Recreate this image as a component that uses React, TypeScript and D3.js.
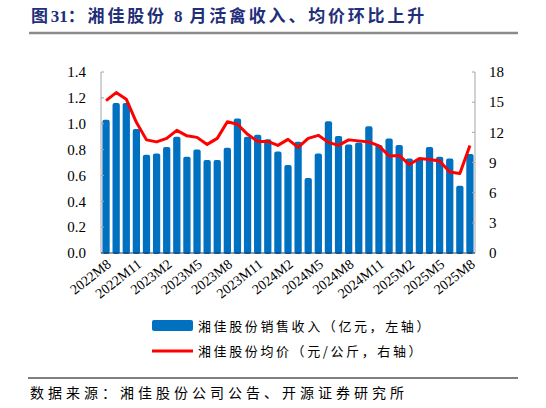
import { useEffect, useRef } from 'react';
import * as d3 from 'd3';

// months 2022M8 .. 2025M8
const months: string[] = [];
for (let i = 0; i < 37; i++) {
  const m = 8 + i;
  const y = 2022 + Math.floor((m - 1) / 12);
  months.push(`${y}M${((m - 1) % 12) + 1}`);
}

const revenue = [
  1.03, 1.16, 1.16, 0.96, 0.76, 0.77, 0.82, 0.90, 0.745, 0.80, 0.72, 0.72, 0.815,
  1.04, 0.90, 0.915, 0.88, 0.785, 0.68, 0.86, 0.58, 0.77, 1.02, 0.905, 0.84,
  0.855, 0.98, 0.835, 0.885, 0.835, 0.73, 0.73, 0.82, 0.745, 0.73, 0.52, 0.765,
];

const price = [
  15.15, 15.95, 15.3, 13.0, 11.25, 11.05, 11.4, 12.2, 11.65, 11.5, 10.8, 11.4, 13.05,
  12.8, 11.8, 11.1, 11.1, 10.7, 11.3, 10.5, 11.4, 11.7, 11.0, 10.7, 11.25,
  11.15, 11.05, 10.65, 9.65, 9.7, 8.8, 9.4, 9.3, 9.15, 8.05, 7.9, 10.7,
];

const leftTicks = [0, 0.2, 0.4, 0.6, 0.8, 1.0, 1.2, 1.4];
const rightTicks = [0, 3, 6, 9, 12, 15, 18];
const tickMonths = months.filter((_, i) => i % 3 === 0);

// title pieces: [text, letter-spacing]
const titleParts: [string, number][] = [
  ['图', 2.8], ['31', 0], ['：湘佳股份 ', 2.8], ['8', 0], [' 月活禽收入、均价环比上升', 2.8],
];
const legendBar = '湘佳股份销售收入（亿元，左轴）';
const legendLine = '湘佳股份均价（元/公斤，右轴）';
const source = '数据来源：湘佳股份公司公告、开源证券研究所';

const W = 546;
const H = 408;
const SERIF = '"Times New Roman", "Liberation Serif", serif';
const CJK = '"Noto Sans CJK SC", sans-serif';

export default function App() {
  const svgRef = useRef<SVGSVGElement>(null);

  useEffect(() => {
    document.body.style.margin = '0';
    if (!svgRef.current) return;
    const svg = d3.select(svgRef.current);
    svg.selectAll('*').remove();

    const x0 = 101;
    const x1 = 475;
    const yTop = 72;
    const yBot = 253;

    const x = d3.scaleBand<string>().domain(months).range([x0, x1]).paddingInner(0.28).paddingOuter(0.14);
    const yL = d3.scaleLinear().domain([0, 1.4]).range([yBot, yTop]);
    const yR = d3.scaleLinear().domain([0, 18]).range([yBot, yTop]);

    // title
    const t = svg.append('text')
      .attr('x', 31).attr('y', 22)
      .attr('font-family', `${SERIF}, ${CJK}`)
      .attr('font-weight', 'bold')
      .attr('font-size', 17)
      .attr('fill', '#1F2F7A');
    titleParts.forEach(([s, ls]) => {
      t.append('tspan').attr('letter-spacing', ls).text(s);
    });
    svg.append('line')
      .attr('x1', 29).attr('x2', 518).attr('y1', 33).attr('y2', 33)
      .attr('stroke', '#8C8C8C').attr('stroke-width', 2.5);

    // bars
    svg.append('g')
      .selectAll('rect')
      .data(revenue)
      .join('rect')
      .attr('x', (_, i) => x(months[i])!)
      .attr('width', x.bandwidth())
      .attr('y', d => yL(d))
      .attr('height', d => yBot - yL(d) + 1)
      .attr('rx', 2)
      .attr('fill', '#0070C0');

    // axes
    const axisColor = '#A6A6A6';
    svg.append('line').attr('x1', x0).attr('x2', x0).attr('y1', yTop).attr('y2', yBot)
      .attr('stroke', axisColor).attr('stroke-width', 1);
    svg.append('line').attr('x1', x1).attr('x2', x1).attr('y1', yTop).attr('y2', yBot)
      .attr('stroke', axisColor).attr('stroke-width', 1);
    svg.append('g').selectAll('line').data(leftTicks).join('line')
      .attr('x1', x0).attr('x2', x0 + 3).attr('y1', d => yL(d)).attr('y2', d => yL(d))
      .attr('stroke', axisColor);
    svg.append('g').selectAll('line').data(rightTicks).join('line')
      .attr('x1', x1 - 3).attr('x2', x1).attr('y1', d => yR(d)).attr('y2', d => yR(d))
      .attr('stroke', axisColor);
    svg.append('line').attr('x1', x0).attr('x2', x1).attr('y1', yBot).attr('y2', yBot)
      .attr('stroke', '#1F3864').attr('stroke-width', 1.2);

    svg.append('g').selectAll('text').data(leftTicks).join('text')
      .attr('x', 86).attr('y', d => yL(d)).attr('dy', '0.35em')
      .attr('text-anchor', 'end')
      .attr('font-family', SERIF).attr('font-size', 15).attr('fill', '#000')
      .text(d => d.toFixed(1));
    svg.append('g').selectAll('text').data(rightTicks).join('text')
      .attr('x', 489).attr('y', d => yR(d)).attr('dy', '0.35em')
      .attr('text-anchor', 'start')
      .attr('font-family', SERIF).attr('font-size', 15).attr('fill', '#000')
      .text(d => String(d));

    svg.append('g').selectAll('text').data(tickMonths).join('text')
      .attr('transform', d => `translate(${x(d)! + x.bandwidth() / 2 + 3},${yBot + 9}) rotate(-38)`)
      .attr('text-anchor', 'end')
      .attr('dy', '0.35em')
      .attr('font-family', SERIF).attr('font-size', 14).attr('fill', '#000')
      .text(d => d);

    // price line
    const line = d3.line<number>()
      .x((_, i) => x(months[i])! + x.bandwidth() / 2)
      .y(d => yR(d));
    svg.append('path')
      .datum(price)
      .attr('d', line)
      .attr('fill', 'none')
      .attr('stroke', '#FF0000')
      .attr('stroke-width', 3)
      .attr('stroke-linejoin', 'round');

    // legend
    svg.append('rect').attr('x', 152).attr('y', 320).attr('width', 41).attr('height', 11)
      .attr('rx', 2).attr('fill', '#0070C0');
    svg.append('text').attr('x', 198).attr('y', 326).attr('dy', '0.35em')
      .attr('font-family', CJK).attr('font-size', 13).attr('fill', '#000')
      .attr('letter-spacing', 2.6)
      .text(legendBar);
    svg.append('line').attr('x1', 152).attr('x2', 193).attr('y1', 351).attr('y2', 351)
      .attr('stroke', '#FF0000').attr('stroke-width', 3);
    svg.append('text').attr('x', 198).attr('y', 351).attr('dy', '0.35em')
      .attr('font-family', CJK).attr('font-size', 13).attr('fill', '#000')
      .attr('letter-spacing', 2.6)
      .text(legendLine);

    // source
    svg.append('line').attr('x1', 28).attr('x2', 518).attr('y1', 378).attr('y2', 378)
      .attr('stroke', '#000').attr('stroke-width', 1.2);
    svg.append('text').attr('x', 30).attr('y', 393).attr('dy', '0.35em')
      .attr('font-family', CJK).attr('font-size', 14).attr('fill', '#000')
      .attr('letter-spacing', 4)
      .text(source);
  }, []);

  return <svg ref={svgRef} width={W} height={H} style={{ display: 'block', background: '#fff' }} />;
}
